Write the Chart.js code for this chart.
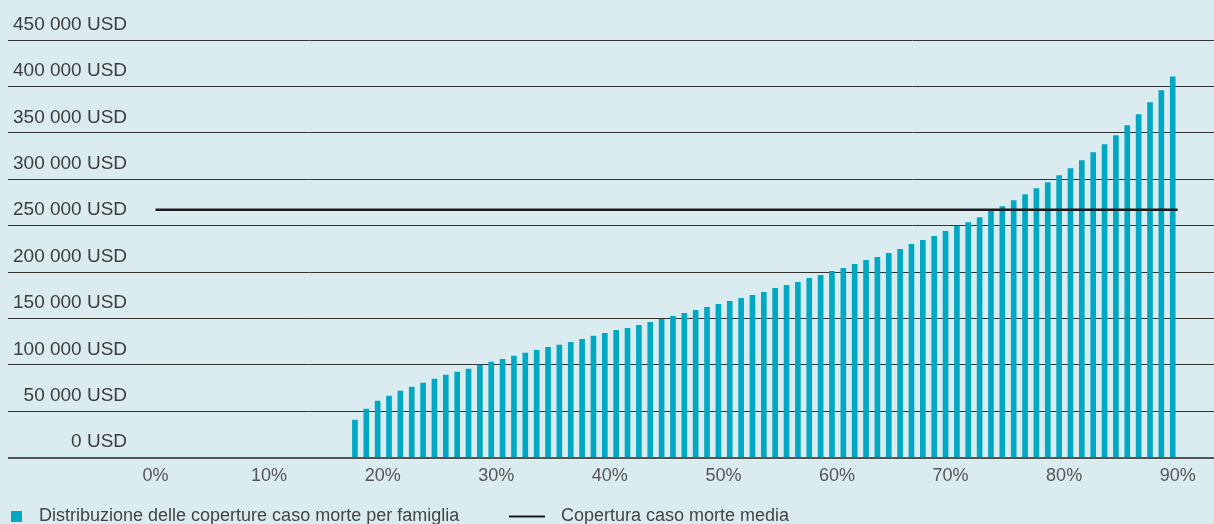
<!DOCTYPE html>
<html>
<head>
<meta charset="utf-8">
<script src="https://cdn.jsdelivr.net/npm/chart.js@4"></script>
<style>
  html, body { margin: 0; padding: 0; background: #daecf0; }
  #wrap { width: 1214px; height: 524px; }
</style>
</head>
<body>
<div id="wrap"><canvas id="chart"></canvas></div>
<script>
// percentile of households (x) and death cover per household in USD (y)
const percentiles = [18, 19, 20, 21, 22, 23, 24, 25, 26, 27, 28, 29, 30, 31, 32, 33, 34, 35,
  36, 37, 38, 39, 40, 41, 42, 43, 44, 45, 46, 47, 48, 49, 50, 51, 52, 53, 54, 55, 56, 57,
  58, 59, 60, 61, 62, 63, 64, 65, 66, 67, 68, 69, 70, 71, 72, 73, 74, 75, 76, 77, 78, 79,
  80, 81, 82, 83, 84, 85, 86, 87, 88, 89, 90];
const coverage = [40500, 52400, 61000, 66300, 71700, 76000, 80300, 84600, 88900, 92200,
  95400, 99700, 102900, 106100, 109400, 112600, 115800, 119000, 121200, 124400,
  127600, 130900, 134100, 137300, 139500, 142700, 145900, 149100, 152400, 155600,
  158800, 162000, 165300, 168500, 171700, 175000, 178200, 182500, 185700, 188900,
  193200, 196500, 200800, 204000, 208300, 212600, 215800, 220100, 224400, 229800,
  234100, 238400, 243800, 249500, 253400, 258800, 265600, 270600, 277100, 283500,
  290000, 296400, 304000, 311500, 320100, 328700, 337300, 347000, 357700, 369600,
  382500, 395400, 410400];
const averageCoverage = 267000;
const averageRange = [0, 90];

const xTicks = [0, 10, 20, 30, 40, 50, 60, 70, 80, 90];
const xTickLabels = ['0%', '10%', '20%', '30%', '40%', '50%', '60%', '70%', '80%', '90%'];
const yTickLabels = ['0 USD', '50 000 USD', '100 000 USD', '150 000 USD', '200 000 USD',
  '250 000 USD', '300 000 USD', '350 000 USD', '400 000 USD', '450 000 USD'];
const seriesLabels = ['Distribuzione delle coperture caso morte per famiglia', 'Copertura caso morte media'];

const FONT = '"Liberation Sans", Arial, sans-serif';
const X_MIN = -12.987, X_MAX = 93.196;
const BAR_SHIFT = 0.22; // bars sit just left of their tick

// legend drawn under the axis, like the original
const bottomLegend = {
  id: 'bottomLegend',
  afterDraw(chart) {
    const ctx = chart.ctx;
    const bars = chart.data.datasets[0];
    const avg = chart.data.datasets[1];
    const y = 516.5;
    ctx.save();
    ctx.font = '18px ' + FONT;
    ctx.textBaseline = 'middle';
    ctx.fillStyle = bars.backgroundColor;
    ctx.fillRect(11, y - 5.5, 11, 11);
    ctx.fillStyle = '#444';
    ctx.fillText(bars.label, 39, y);
    ctx.strokeStyle = avg.borderColor;
    ctx.lineWidth = 2;
    ctx.beginPath();
    ctx.moveTo(509, y);
    ctx.lineTo(545, y);
    ctx.stroke();
    ctx.fillText(avg.label, 561, y);
    ctx.restore();
  }
};

Chart.defaults.font.family = FONT;

new Chart(document.getElementById('chart'), {
  type: 'bar',
  data: {
    datasets: [
      {
        label: seriesLabels[0],
        data: percentiles.map((p, i) => ({ x: p, y: coverage[i] })),
        backgroundColor: '#00a8c3',
        barThickness: 5,
        xAxisID: 'xb',
        order: 1
      },
      {
        type: 'line',
        label: seriesLabels[1],
        data: averageRange.map(p => ({ x: p, y: averageCoverage })),
        borderColor: '#1c1c1c',
        borderWidth: 2.5,
        borderCapStyle: 'butt',
        pointRadius: 0,
        xAxisID: 'x',
        order: 0
      }
    ]
  },
  options: {
    responsive: true,
    maintainAspectRatio: false,
    animation: false,
    devicePixelRatio: 1,
    layout: { padding: { top: 40, left: 0, right: 0, bottom: 28.7 } },
    plugins: {
      legend: { display: false },
      tooltip: { enabled: false }
    },
    scales: {
      x: {
        type: 'linear',
        min: X_MIN,
        max: X_MAX,
        offset: false,
        afterBuildTicks: scale => { scale.ticks = xTicks.map(v => ({ value: v })); },
        grid: { display: false, drawTicks: false, offset: false },
        border: { display: false },
        ticks: {
          padding: 8,
          color: '#555',
          font: { size: 18 },
          maxRotation: 0,
          autoSkip: false,
          callback: (v, i) => xTickLabels[i]
        }
      },
      xb: {
        type: 'linear',
        display: false,
        offset: false,
        grid: { offset: false },
        min: X_MIN + BAR_SHIFT,
        max: X_MAX + BAR_SHIFT
      },
      y: {
        min: 0,
        max: 450000,
        afterFit: axis => { axis.width = 8; },
        grid: {
          drawTicks: false,
          color: c => c.tick && c.tick.value === 0 ? '#555' : '#333',
          lineWidth: c => c.tick && c.tick.value === 0 ? 2 : 1
        },
        border: { display: false },
        ticks: {
          stepSize: 50000,
          mirror: true,
          crossAlign: 'far',
          padding: 5,
          labelOffset: -15.5,
          color: '#3d3d3d',
          font: { size: 19 },
          callback: (v, i) => yTickLabels[i]
        }
      }
    }
  },
  plugins: [bottomLegend]
});
</script>
</body>
</html>
